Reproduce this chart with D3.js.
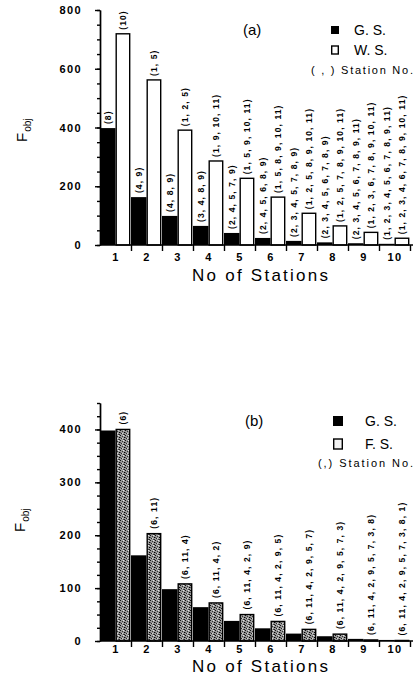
<!DOCTYPE html>
<html lang="en">
<head>
<meta charset="UTF-8">
<title>Fobj vs No of Stations</title>
<script src="https://d3js.org/d3.v7.min.js"></script>
<style>
    body { margin: 0; background: #fff; }
    svg { display: block; font-family: "Liberation Sans", Arial, sans-serif; }
    .tick text { font-weight: bold; font-size: 11px; letter-spacing: 1.4px; fill: #000; }
    .domain, .tick line { stroke: #000; stroke-width: 1.4; }
    .lbl { font-size: 8.5px; font-weight: bold; letter-spacing: 1.1px; }
</style>
</head>
<body>
<div id="chart"></div>
<script>
    // data
    const stations = [1, 2, 3, 4, 5, 6, 7, 8, 9, 10];

    const gsA = [398, 163, 99, 65, 41, 24, 14, 9, 6, 4];
    const wsA = [719, 562, 391, 286, 227, 163, 108, 65, 43, 23];
    const gsLabelsA = ["(8)", "(4, 9)", "(4, 8, 9)", "(3, 4, 8, 9)", "(2, 4, 5, 7, 9)",
        "(2, 4, 5, 6, 8, 9)", "(2, 3, 4, 5, 7, 8, 9)", "(2, 3, 4, 5, 6, 7, 8, 9)",
        "(2, 3, 4, 5, 6, 7, 8, 9, 11)", "(1, 2, 3, 4, 5, 6, 7, 8, 9, 11)"];
    const wsLabelsA = ["(10)", "(1, 5)", "(1, 2, 5)", "(1, 9, 10, 11)", "(1, 5, 9, 10, 11)",
        "(1, 5, 8, 9, 10, 11)", "(1, 2, 5, 8, 9, 10, 11)", "(1, 2, 5, 7, 8, 9, 10, 11)",
        "(1, 2, 3, 6, 7, 8, 9, 10, 11)", "(1, 2, 3, 4, 6, 7, 8, 9, 10, 11)"];

    const gsB = [398, 162, 98, 64, 38, 24, 14, 9, 4, 2];
    const fsB = [400, 203, 108, 72, 50, 37, 22, 13, 2, 1];
    const fsLabelsB = ["(6)", "(6, 11)", "(6, 11, 4)", "(6, 11, 4, 2)", "(6, 11, 4, 2, 9)",
        "(6, 11, 4, 2, 9, 5)", "(6, 11, 4, 2, 9, 5, 7)", "(6, 11, 4, 2, 9, 5, 7, 3)",
        "(6, 11, 4, 2, 9, 5, 7, 3, 8)", "(6, 11, 4, 2, 9, 5, 7, 3, 8, 1)"];

    const yTicksA = [0, 200, 400, 600, 800];
    const yTicksB = [0, 100, 200, 300, 400];

    const W = 416, H = 681;
    const svg = d3.select("#chart").append("svg").attr("width", W).attr("height", H);
    svg.append("rect").attr("width", W).attr("height", H).attr("fill", "#fff");

    // stipple for F.S. bars
    const pat = svg.append("defs").append("pattern")
        .attr("id", "stip").attr("width", 5).attr("height", 5)
        .attr("patternUnits", "userSpaceOnUse");
    pat.append("rect").attr("width", 5).attr("height", 5).attr("fill", "#9a9a9a");
    [[0, 0, "#111"], [2, 1, "#333"], [4, 2, "#000"], [1, 3, "#222"], [3, 4, "#444"], [3, 0, "#e6e6e6"], [0, 2, "#555"], [2, 3, "#d0d0d0"], [4, 4, "#222"]]
        .forEach(([x, y, c]) => pat.append("rect").attr("x", x).attr("y", y)
            .attr("width", 1).attr("height", 1).attr("fill", c));

    const x = d3.scaleLinear().domain([0.5, 10.5]).range([100, 410]);

    function drawPanel(p) {
        const g = svg.append("g");
        const y = d3.scaleLinear().domain([0, p.top]).range([p.y0, p.y1]);

        // bars
        g.selectAll(".gs").data(p.gs).join("rect")
            .attr("x", (d, i) => x(stations[i] - 0.5))
            .attr("width", (d, i) => x(stations[i]) - x(stations[i] - 0.5))
            .attr("y", d => y(d))
            .attr("height", d => p.y0 - y(d))
            .attr("fill", "#000");

        g.selectAll(".ws").data(p.ws).join("rect")
            .attr("x", (d, i) => x(stations[i]) + 0.7)
            .attr("width", (d, i) => x(stations[i] + 0.5) - x(stations[i]) - 2)
            .attr("y", d => y(d))
            .attr("height", d => p.y0 - y(d))
            .attr("fill", p.fill)
            .attr("stroke", "#000").attr("stroke-width", 1.4);

        // station labels
        const addLabels = (vals, labels, off) => {
            g.selectAll(null).data(labels).join("text")
                .attr("class", "lbl")
                .attr("transform", (d, i) => `translate(${x(stations[i] + off)},${y(vals[i]) - p.gap}) rotate(-90)`)
                .attr("dy", "0.36em")
                .text(d => d);
        };
        if (p.gsLabels) addLabels(p.gs, p.gsLabels, -0.25);
        addLabels(p.ws, p.wsLabels, 0.25);

        // y axis
        g.append("g").attr("transform", "translate(100,0)")
            .call(d3.axisLeft(y).tickValues(d3.range(0, p.top + 1, p.minor)).tickSize(3).tickSizeOuter(0).tickFormat(""));
        g.append("g").attr("transform", "translate(100,0)")
            .call(d3.axisLeft(y).tickValues(p.yTicks).tickSize(5).tickSizeOuter(0).tickPadding(13));

        // x axis: labels at centres, ticks at boundaries
        g.append("g").attr("transform", `translate(0,${p.y0})`)
            .call(d3.axisBottom(x).tickValues(stations).tickSize(0).tickPadding(p.pad).tickFormat(d3.format("d")))
            .select(".domain").remove();
        g.append("g").attr("transform", `translate(0,${p.y0})`)
            .call(d3.axisBottom(x).tickValues(stations.map(d => d + 0.5)).tickSize(6).tickSizeOuter(0).tickFormat(""))
            .select(".domain").attr("d", `M100,0H413`);

        g.append("text").attr("x", 192).attr("y", p.y0 + p.titleDy)
            .attr("textLength", 136).attr("lengthAdjust", "spacing")
            .attr("font-size", 17).text("No of Stations");

        // Fobj
        const ft = g.append("text")
            .attr("transform", `translate(${p.fx},${p.fy}) rotate(-90)`)
            .attr("font-size", 15);
        ft.append("tspan").text("F");
        ft.append("tspan").attr("font-size", 10).attr("dy", 4).attr("dx", 1).text("obj");

        // panel tag and legend
        g.append("text").attr("x", p.tagX).attr("y", p.legY).attr("dy", "0.35em")
            .attr("font-size", 15).text(p.tag);
        g.append("rect").attr("x", p.sqX).attr("y", p.legY - p.sq / 2)
            .attr("width", p.sq).attr("height", p.sq).attr("fill", "#000");
        g.append("rect").attr("x", p.sqX + 0.7).attr("y", p.legY + p.legGap - p.sq / 2)
            .attr("width", p.sq - 1.4).attr("height", p.sq).attr("fill", p.legFill)
            .attr("stroke", "#000").attr("stroke-width", 1.4);
        g.append("text").attr("x", p.txX).attr("y", p.legY).attr("dy", "0.35em")
            .attr("font-size", 14).text("G. S.");
        g.append("text").attr("x", p.txX).attr("y", p.legY + p.legGap).attr("dy", "0.35em")
            .attr("font-size", 14).text(p.wsName);
        g.append("text").attr("x", p.noX).attr("y", p.legY + p.noGap).attr("dy", "0.35em")
            .attr("font-size", 11).attr("textLength", 413 - p.noX).attr("lengthAdjust", "spacing")
            .text(p.noText);
    }

    drawPanel({
        gs: gsA, ws: wsA, gsLabels: gsLabelsA, wsLabels: wsLabelsA,
        top: 800, y0: 245, y1: 10, minor: 50, yTicks: yTicksA, pad: 8, titleDy: 36, gap: 4,
        fill: "#fff", legFill: "#fff", fx: 27, fy: 142,
        tag: "(a)", tagX: 243, legY: 30, sqX: 331, sq: 8, legGap: 20, noGap: 40,
        txX: 354, noX: 311, wsName: "W. S.", noText: "( , ) Station No."
    });

    drawPanel({
        gs: gsB, ws: fsB, wsLabels: fsLabelsB,
        top: 450, y0: 641, y1: 403, minor: 25, yTicks: yTicksB, pad: 4, titleDy: 31, gap: 5,
        fill: "url(#stip)", legFill: "#f2f2f2", fx: 25, fy: 532,
        tag: "(b)", tagX: 245, legY: 421, sqX: 333, sq: 10, legGap: 23, noGap: 42,
        txX: 365, noX: 318, wsName: "F. S.", noText: "(,) Station No."
    });
</script>
</body>
</html>
